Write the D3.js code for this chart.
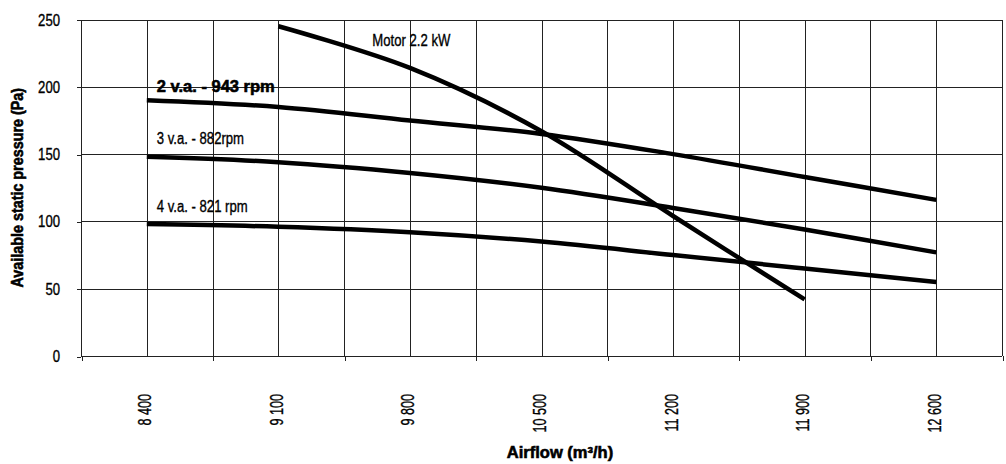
<!DOCTYPE html>
<html>
<head>
<meta charset="utf-8">
<script src="https://cdn.jsdelivr.net/npm/d3@7"></script>
<style>
  html, body { margin: 0; padding: 0; background: #fff; }
  svg { display: block; }
  text { font-family: "Liberation Sans", Arial, sans-serif; fill: #000; stroke: #000; stroke-width: 0.35px; }
  text.heavy { stroke-width: 0.6px; }
</style>
</head>
<body>
<svg id="chart" width="1006" height="464"></svg>
<script>
// Airflow points (m³/h) and available static pressure (Pa) per fan speed
const airflow = [8400, 9100, 9800, 10500, 11200, 11900, 12600];
const speed2 = [190, 185, 175, 165, 150, 133, 116];
const speed3 = [148, 144, 136, 125, 110, 94, 77];
const speed4 = [98, 96, 92, 85, 75, 65, 55];

// Motor limit curve
const motorAirflow = [9100, 9800, 10500, 11200, 11900];
const motorPressure = [245, 214, 167, 104, 42];

const xTickLabels = ["8 400", "9 100", "9 800", "10 500", "11 200", "11 900", "12 600"];
const yTicks = [0, 50, 100, 150, 200, 250];

const seriesNames = ["2 v.a. - 943 rpm", "3 v.a. - 882rpm", "4 v.a. - 821 rpm"];
const motorName = "Motor 2.2 kW";

const svg = d3.select("#chart");
const plotLeft = 81, plotRight = 1002, plotTop = 19.5, plotBottom = 356;

const x = d3.scaleLinear().domain([8050, 12950]).range([plotLeft, plotRight]);
const y = d3.scaleLinear().domain([0, 250]).range([plotBottom, plotTop]);

// Narrow lettering: horizontally squeezed glyphs
function place(sel, px, py, rot, sx) {
  return sel.attr("x", null).attr("y", null)
    .attr("transform", `translate(${px},${py}) rotate(${rot}) scale(${sx},1)`);
}

// Grid: vertical lines every 350 m³/h, horizontal every 50 Pa
const gridX = d3.range(8050, 12950 + 1, 350);
const grid = svg.append("g").attr("stroke", "#222").attr("stroke-width", 1).attr("shape-rendering", "crispEdges");
grid.selectAll("line.v").data(gridX).join("line").attr("class", "v")
  .attr("x1", d => Math.round(x(d)) + 0.5).attr("x2", d => Math.round(x(d)) + 0.5)
  .attr("y1", y(250)).attr("y2", y(0));
grid.selectAll("line.h").data(yTicks).join("line").attr("class", "h")
  .attr("x1", x.range()[0]).attr("x2", x.range()[1])
  .attr("y1", d => Math.round(y(d)) + 0.5).attr("y2", d => Math.round(y(d)) + 0.5);

// Y axis
const gy = svg.append("g").attr("transform", `translate(${plotLeft},0)`)
  .call(d3.axisLeft(y).tickValues(yTicks).tickSize(4).tickFormat(d3.format("d")));
gy.attr("font-family", null).attr("font-size", null);
gy.select(".domain").remove();
gy.selectAll(".tick line").attr("stroke", "#222").attr("shape-rendering", "crispEdges")
  .attr("transform", "translate(0,0.5)");
gy.selectAll(".tick text").attr("dy", null).attr("fill", "#000")
  .style("font-size", "16px").attr("text-anchor", "end")
  .each(function () { place(d3.select(this), -21, 5.5, 0, 0.82); });

// X axis: tick marks at category boundaries, labels at category centres
const boundaries = d3.range(8050, 12950 + 1, 700);
const gxTicks = svg.append("g").attr("transform", `translate(0,${plotBottom})`)
  .call(d3.axisBottom(x).tickValues(boundaries).tickSize(5).tickFormat(""));
gxTicks.select(".domain").remove();
gxTicks.selectAll(".tick line").attr("stroke", "#222").attr("shape-rendering", "crispEdges")
  .attr("transform", "translate(0.5,0)");

const gxLabels = svg.append("g").attr("transform", `translate(0,${plotBottom})`)
  .call(d3.axisBottom(x).tickValues(airflow).tickSize(0).tickFormat((d, i) => xTickLabels[i]));
gxLabels.attr("font-family", null).attr("font-size", null);
gxLabels.select(".domain").remove();
gxLabels.selectAll(".tick text").attr("dy", null).attr("fill", "#000")
  .style("font-size", "18px").attr("text-anchor", "end")
  .each(function () { place(d3.select(this), 4, 38, -90, 0.7); });

// Axis titles
place(svg.append("text"), 23, (plotTop + plotBottom) / 2, -90, 0.87)
  .attr("class", "heavy").attr("text-anchor", "middle")
  .style("font-size", "16.5px").style("font-weight", "bold")
  .text("Available static pressure (Pa)");
place(svg.append("text"), 560, 458, 0, 1)
  .attr("class", "heavy").attr("text-anchor", "middle")
  .style("font-size", "16.5px").style("font-weight", "bold")
  .text("Airflow (m³/h)");

// Curves
const line = d3.line().x(d => x(d[0])).y(d => y(d[1])).curve(d3.curveCatmullRom);
const curves = [
  d3.zip(airflow, speed2),
  d3.zip(airflow, speed3),
  d3.zip(airflow, speed4),
  d3.zip(motorAirflow, motorPressure)
];
svg.append("g").selectAll("path").data(curves).join("path")
  .attr("d", line)
  .attr("fill", "none").attr("stroke", "#000").attr("stroke-width", 4.5);

// Curve labels
const labels = svg.append("g").style("font-size", "16px");
place(labels.append("text"), x(airflow[0]) + 10, y(speed2[0]) - 8.5, 0, 1)
  .attr("class", "heavy")
  .style("font-size", "16.5px").style("font-weight", "bold").text(seriesNames[0]);
place(labels.append("text"), x(airflow[0]) + 10, y(speed3[0]) - 12.5, 0, 0.82)
  .text(seriesNames[1]);
place(labels.append("text"), x(airflow[0]) + 10, y(speed4[0]) - 12.5, 0, 0.82)
  .text(seriesNames[2]);
place(labels.append("text"), x(motorAirflow[0]) + 94, y(motorPressure[0]) + 20, 0, 0.82)
  .text(motorName);
</script>
</body>
</html>
